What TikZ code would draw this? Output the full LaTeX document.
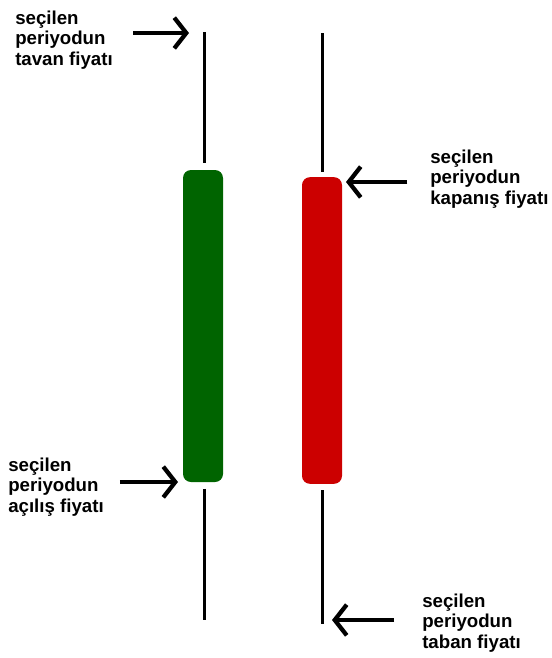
\documentclass[tikz,border=0pt]{standalone}
\usepackage{fontspec}
\setmainfont{Liberation Sans}
\usetikzlibrary{arrows.meta,positioning}

\definecolor{bullgreen}{RGB}{0,100,0}
\definecolor{bearred}{RGB}{204,0,0}

\tikzset{
  candle/.style={rounded corners=6pt, minimum width=30pt, inner sep=0pt},
  wick/.style={line width=2.25pt},
  pointer/.style={line width=3.2pt, -{Straight Barb[length=9pt, width=23pt, line width=3.2pt]}},
  caption/.style={align=left, inner sep=0pt, font=\bfseries\fontsize{14}{15.6}\selectfont}
}

\begin{document}
\begin{tikzpicture}[x=0.75pt, y=-0.75pt]
		\useasboundingbox (0,0) rectangle (552,658);
		
		% Candle bodies
		\node[candle, fill=bullgreen, minimum height=234pt] (greenbody) at (203,326) {};
		\node[candle, fill=bearred, minimum height=230pt] (redbody) at (322,330.5) {};
		
		% Wicks
		\coordinate (greenhigh) at (204,32);
		\coordinate (greenlow) at (204,620);
		\coordinate (redhigh) at (322,33);
		\coordinate (redlow) at (322,624);
		\draw[wick] (greenhigh) -- ([yshift=5pt]greenbody.north -| greenhigh);
		\draw[wick] ([yshift=-5pt]greenbody.south -| greenlow) -- (greenlow);
		\draw[wick] (redhigh) -- ([yshift=4pt]redbody.north -| redhigh);
		\draw[wick] ([yshift=-4.5pt]redbody.south -| redlow) -- (redlow);
		
		% Labels
		\node[caption, anchor=west] (tavan) at (15,40) {seçilen\\periyodun\\tavan fiyatı};
		\node[caption, anchor=west] (kapanis) at (430,179) {seçilen\\periyodun\\kapanış fiyatı};
		\node[caption, anchor=west] (acilis) at (8,487) {seçilen\\periyodun\\açılış fiyatı};
		\node[caption, anchor=west] (taban) at (422,623) {seçilen\\periyodun\\taban fiyatı};
		
		% Arrows
		\coordinate (tavantip) at (189,33);
		\coordinate (kapanistip) at (346,182);
		\coordinate (acilistip) at (178,482);
		\coordinate (tabantip) at (332,620);
		\draw[pointer, shorten <=15pt] (tavan.east |- tavantip) -- (tavantip);
		\draw[pointer, shorten <=17pt] (kapanis.west |- kapanistip) -- (kapanistip);
		\draw[pointer, shorten <=12pt] (acilis.east |- acilistip) -- (acilistip);
		\draw[pointer, shorten <=21pt] (taban.west |- tabantip) -- (tabantip);
	\end{tikzpicture}
\end{document}
